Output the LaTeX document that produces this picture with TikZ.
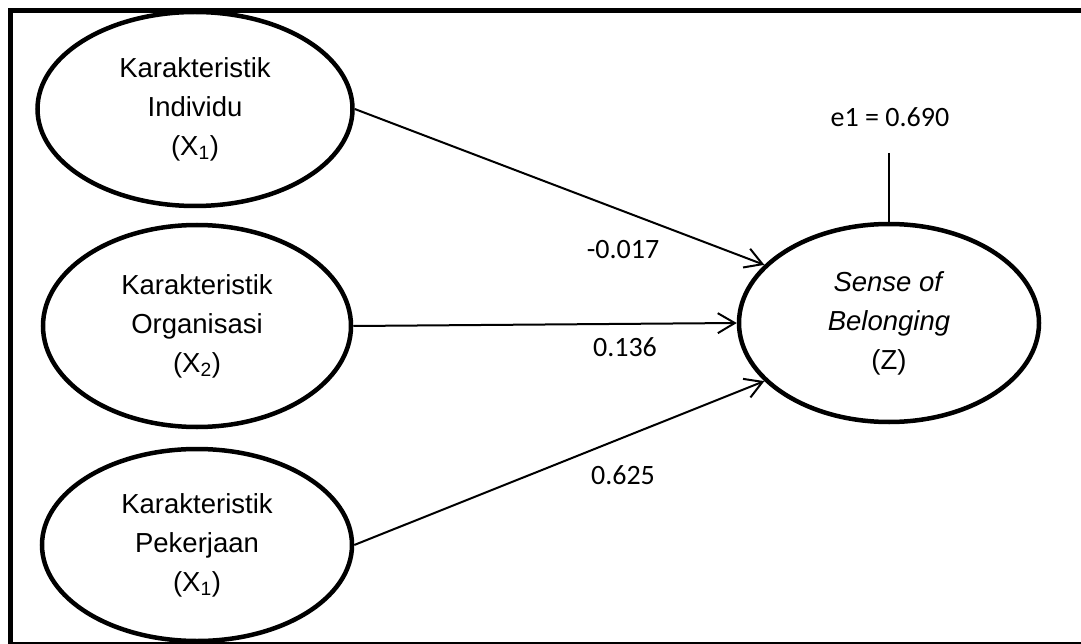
\documentclass[tikz,border=0pt]{standalone}
\usepackage{fontspec}
\setmainfont{Liberation Sans}
\newfontfamily\calibrifont{Carlito}
\usepackage{tikz}
\usetikzlibrary{shapes,arrows.meta,positioning,calc}

\tikzset{
    latent/.style={ellipse,draw,line width=4.5pt,inner sep=0pt,align=center,
        minimum width=312pt,minimum height=196pt,font=\fontsize{27.5}{39}\selectfont},
    path/.style={line width=2pt,-{Straight Barb[length=17pt,width=20pt,line width=2pt]}},
    coef/.style={font=\calibrifont\fontsize{28}{32}\selectfont}
}

\begin{document}
\begin{tikzpicture}[x=1pt,y=-1pt]
    \useasboundingbox (0,0) rectangle (1081,644);
    % Frame (cut off at the right)
    \draw[line width=5pt] (10.5,644) -- (10.5,10.5) -- (1081,10.5);
    \draw[line width=1.5pt] (10.5,642.8) -- (1081,642.8);

    % Exogenous variables
    \node[latent,minimum width=315pt,minimum height=194pt] (ind) at (195,109) {Karakteristik\\Individu\\(X\textsubscript{1})};
    \node[latent,minimum width=308pt,minimum height=202pt] (org) at (197,326) {Karakteristik\\Organisasi\\(X\textsubscript{2})};
    \node[latent,minimum width=310pt,minimum height=192pt] (pek) at (197,545) {Karakteristik\\Pekerjaan\\(X\textsubscript{1})};

    % Endogenous variable and its error term
    \node[latent,minimum width=300pt,minimum height=198pt] (z) at (889,323) {\textit{Sense of}\\\textit{Belonging}\\(Z)};
    \coordinate (err) at (889,153);
    \draw[line width=1.5pt] (err) -- (z.north);
    \node[coef] (e1) at (890,117) {e1 = 0.690};

    % Path coefficients
    \draw[path] (ind.east) -- (z.155);
    \draw[path] (org.east) -- (z.west);
    \draw[path] (pek.east) -- (z.205);
    \node[coef] (c1) at (623,250) {-0.017};
    \node[coef] (c2) at (625,347) {0.136};
    \node[coef] (c3) at (623,475) {0.625};
\end{tikzpicture}
\end{document}
